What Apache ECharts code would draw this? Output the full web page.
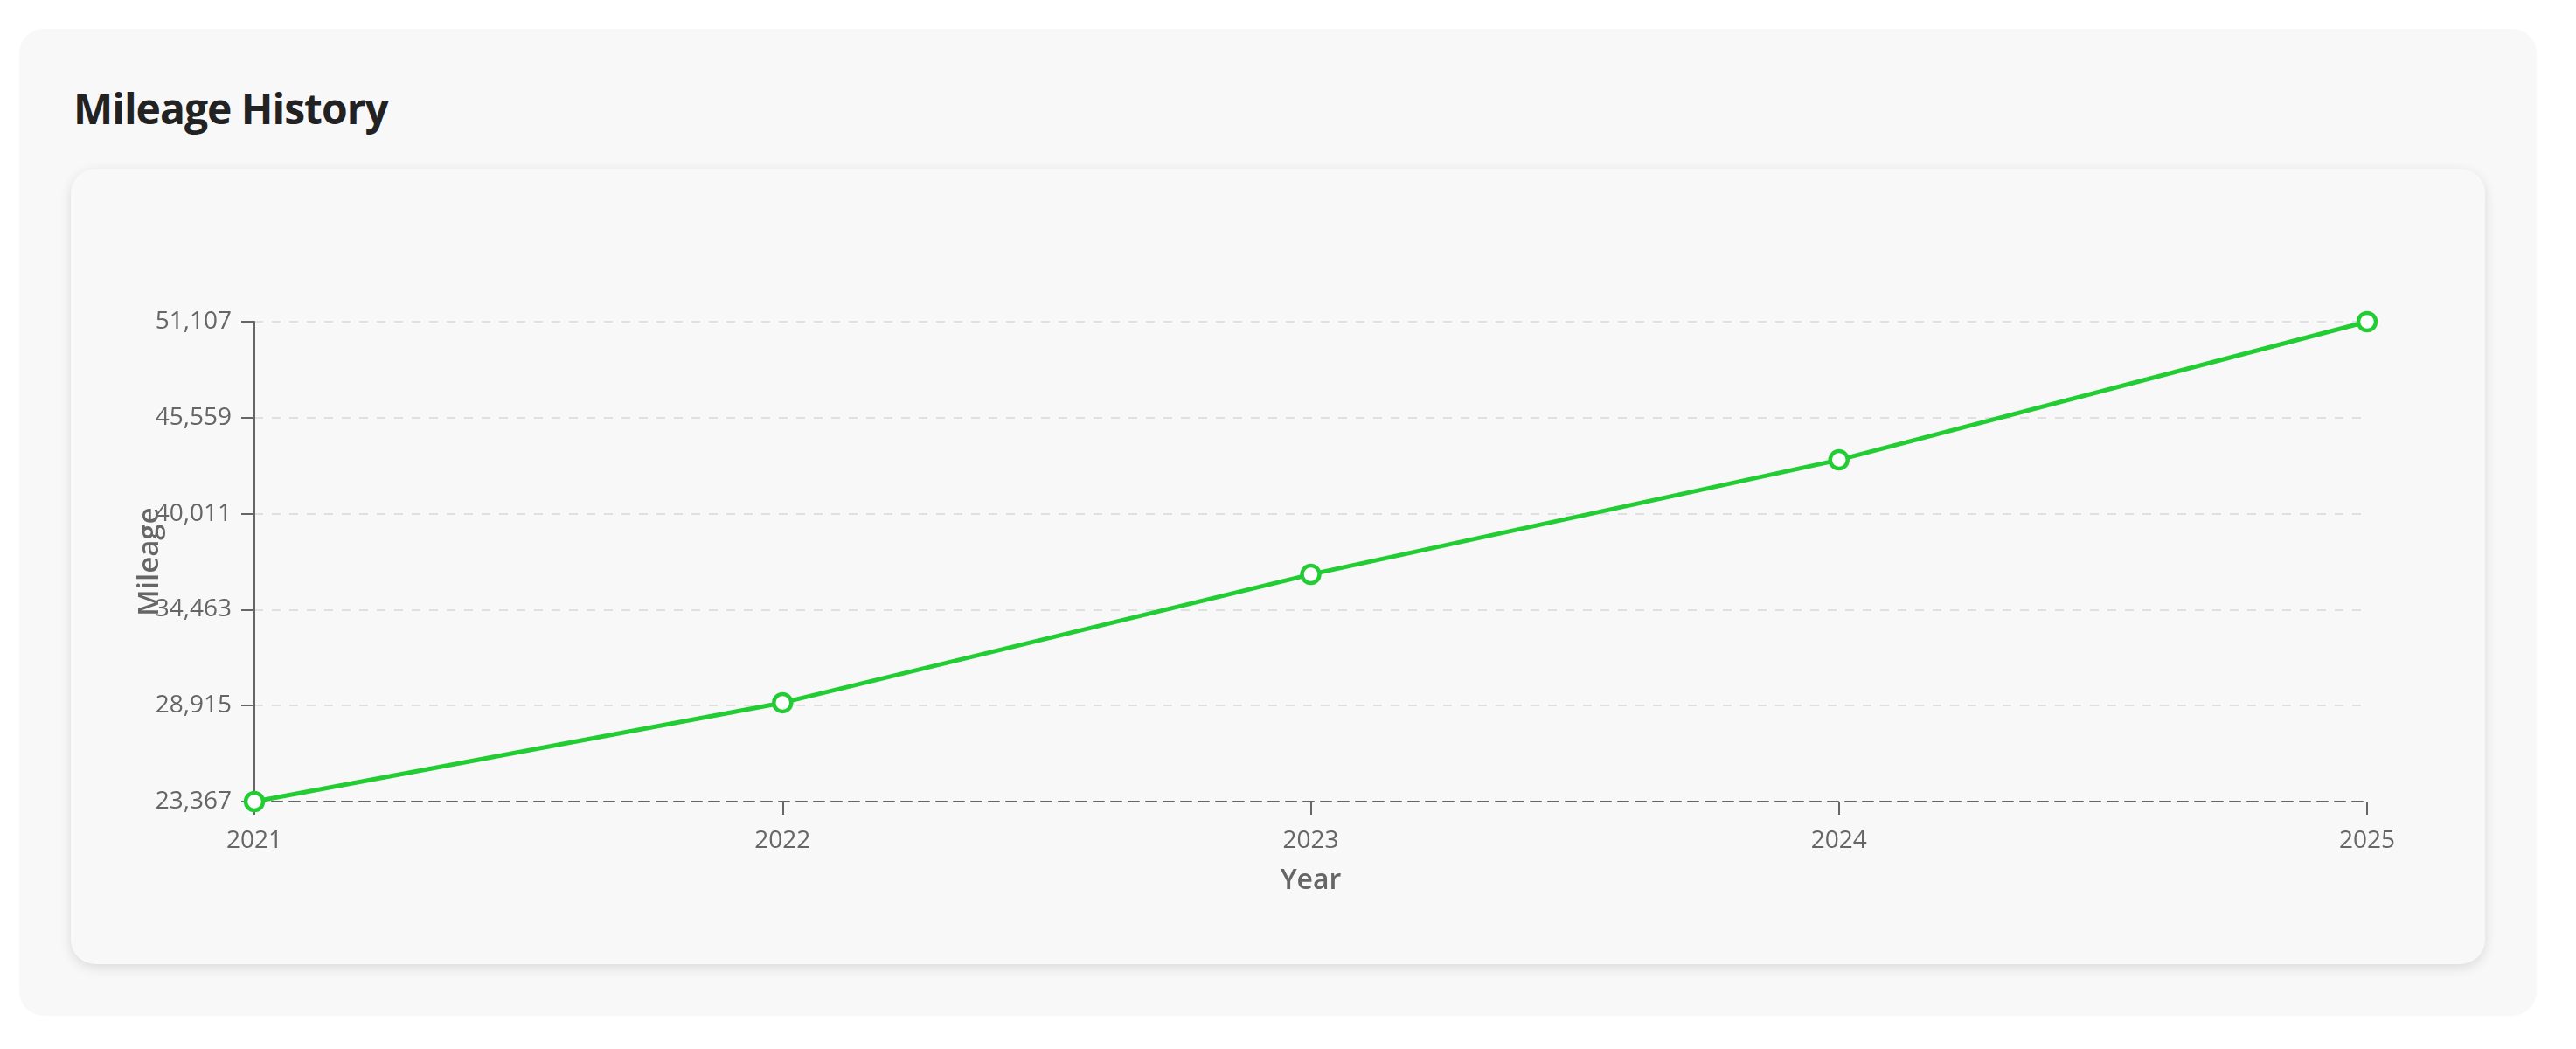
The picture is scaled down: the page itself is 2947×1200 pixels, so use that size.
<!DOCTYPE html>
<html>
<head>
<meta charset="utf-8">
<script src="https://cdn.jsdelivr.net/npm/echarts@6/dist/echarts.min.js"></script>
<style>
  html, body { margin: 0; padding: 0; width: 2947px; height: 1200px; background: #ffffff; overflow: hidden; font-family: "Open Sans", "Noto Sans", sans-serif; }
  .outer { position: absolute; left: 22px; top: 33px; width: 2880px; height: 1129px; background: #f8f8f8; border-radius: 28px; }
  .title { position: absolute; left: 84px; top: 89px; margin: 0; font-size: 48px; font-weight: 700; color: #222222; letter-spacing: -1px; line-height: 70px; }
  .inner { position: absolute; left: 81px; top: 193px; width: 2762px; height: 910px; background: #f8f8f8; border-radius: 28px; box-shadow: 0 4px 14px rgba(0,0,0,0.12); }
  #chart { position: absolute; left: 0; top: 0; width: 2947px; height: 1200px; }
</style>
</head>
<body>
<div class="outer"></div>
<h2 class="title">Mileage History</h2>
<div class="inner"></div>
<div id="chart"></div>
<script>
const years = ['2021', '2022', '2023', '2024', '2025'];
const mileage = [23367, 29080, 36500, 43120, 51107];
const yMin = 23367;
const yMax = 51107;
const yStep = 5548;

const chart = echarts.init(document.getElementById('chart'), null, { renderer: 'canvas' });
chart.setOption({
  backgroundColor: 'transparent',
  animation: false,
  grid: { left: 291, right: 239, top: 368, bottom: 283, containLabel: false },
  xAxis: {
    type: 'category',
    data: years,
    boundaryGap: false,
    name: 'Year',
    nameLocation: 'middle',
    nameGap: 75,
    nameMoveOverlap: false,
    nameTextStyle: { color: '#666666', fontSize: 32, fontWeight: 600, fontFamily: 'Open Sans' },
    axisLine: { show: true, lineStyle: { color: '#666666', width: 2, type: [12, 8] } },
    axisTick: { show: true, alignWithLabel: true, length: 15, lineStyle: { color: '#666666', width: 2 } },
    axisLabel: { color: '#666666', fontSize: 28, margin: 31, fontFamily: 'Open Sans' },
    splitLine: { show: false }
  },
  yAxis: {
    type: 'value',
    min: yMin,
    max: yMax,
    interval: yStep,
    name: 'Mileage',
    nameLocation: 'middle',
    nameGap: 103,
    nameMoveOverlap: false,
    nameTextStyle: { color: '#666666', fontSize: 33, fontWeight: 600, fontFamily: 'Open Sans' },
    axisLine: { show: true, lineStyle: { color: '#666666', width: 2 } },
    axisTick: { show: true, length: 15, lineStyle: { color: '#666666', width: 2 } },
    axisLabel: { color: '#666666', fontSize: 28, margin: 26, fontFamily: 'Open Sans' },
    splitLine: { show: true, lineStyle: { color: '#e0e0e0', width: 2, type: [10, 10] } }
  },
  series: [{
    type: 'line',
    data: mileage,
    symbol: 'circle',
    symbolSize: 20,
    showSymbol: true,
    lineStyle: { color: '#22cc33', width: 5 },
    itemStyle: { color: '#ffffff', borderColor: '#22cc33', borderWidth: 4.5 },
    z: 5
  }]
});
</script>
</body>
</html>
